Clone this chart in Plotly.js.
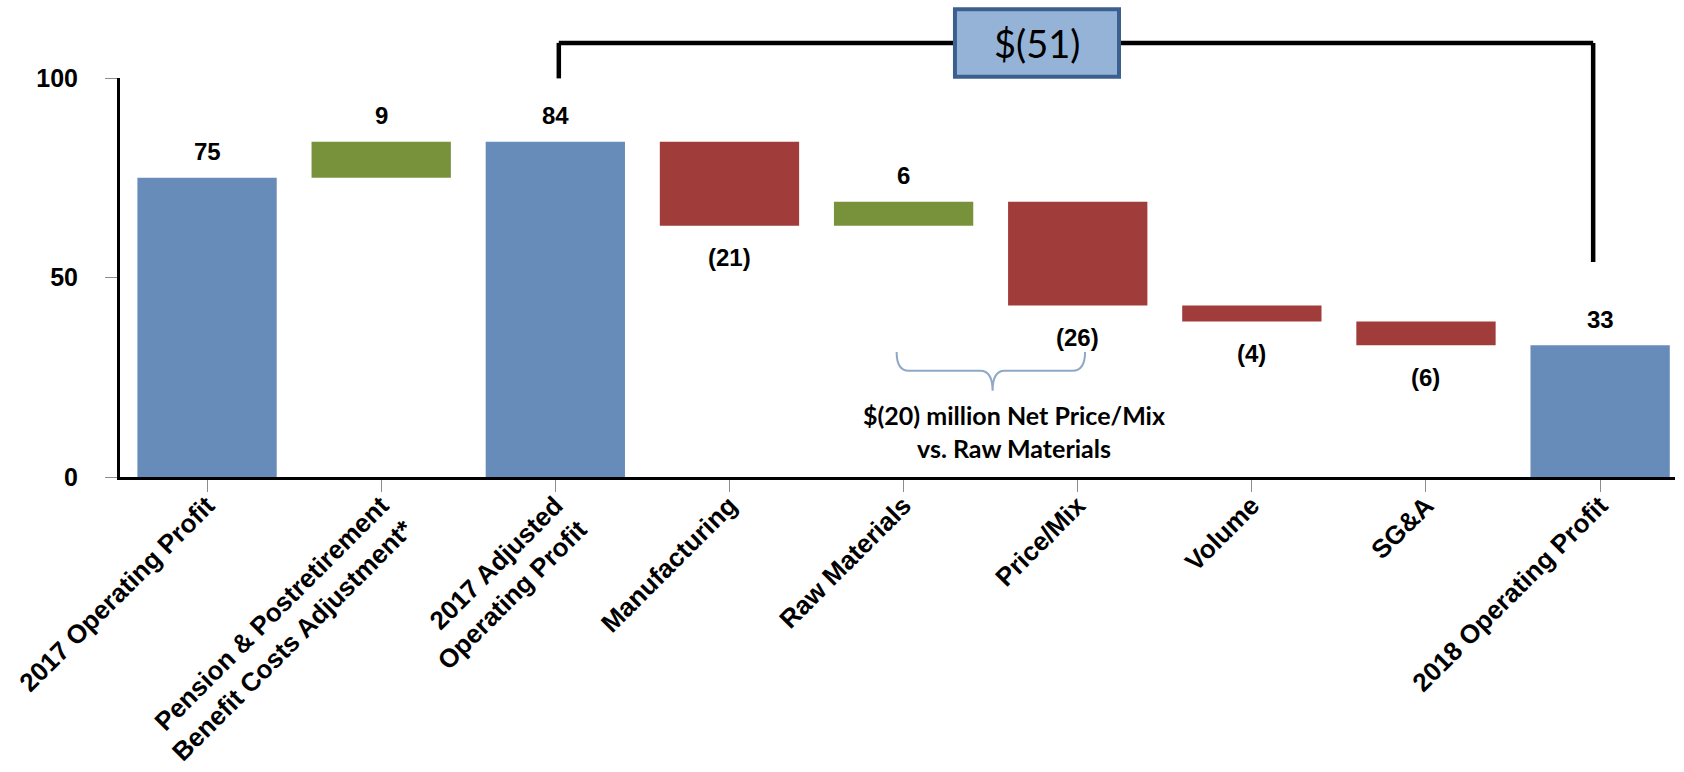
<!DOCTYPE html>
<html>
<head>
<meta charset="utf-8">
<script src="https://cdn.plot.ly/plotly-3.0.1.min.js"></script>
<style>html,body{margin:0;padding:0;background:#fff;}</style>
</head>
<body>
<div id="chart" style="width:1684px;height:772px;"></div>
<script>
// ---- data ----
var categories = [
  '2017 Operating Profit',
  'Pension & Postretirement<br>Benefit Costs Adjustment*',
  '2017 Adjusted<br>Operating Profit',
  'Manufacturing',
  'Raw Materials',
  'Price/Mix',
  'Volume',
  'SG&A',
  '2018 Operating Profit'
];
var measures = ['total', 'delta', 'total', 'delta', 'delta', 'delta', 'delta', 'delta', 'total'];
var values = [75, 9, 84, -21, 6, -26, -4, -6, 33];
var valueLabels = ['75', '9', '84', '(21)', '6', '(26)', '(4)', '(6)', '33'];
var yTickVals = [0, 50, 100];
var bridgeLabel = '$(51)';
var noteLabel = '$(20) million Net Price/Mix<br>vs. Raw Materials';

// ---- styles ----
var C_TOTAL = '#688CB9', C_UP = '#77923B', C_DOWN = '#A03D3B';
var numFont = {family: 'Liberation Sans, Arial, sans-serif', size: 24, color: '#000', weight: 'bold'};

// ---- build floating bars from data ----
var idx = categories.map(function (_, i) { return i; });
var bases = [], lengths = [], colors = [], running = 0;
values.forEach(function (v, i) {
  if (measures[i] === 'total') {
    bases.push(0); lengths.push(v); colors.push(C_TOTAL); running = v;
  } else {
    if (v >= 0) { bases.push(running); lengths.push(v); colors.push(C_UP); }
    else { bases.push(running + v); lengths.push(-v); colors.push(C_DOWN); }
    running += v;
  }
});

var trace = {
  type: 'bar', x: idx, y: lengths, base: bases, width: 0.8,
  marker: {color: colors, line: {width: 0}},
  hoverinfo: 'skip', showlegend: false
};

var annotations = values.map(function (v, i) {
  var neg = measures[i] !== 'total' && v < 0;
  return {
    x: i, y: neg ? bases[i] : bases[i] + lengths[i], xref: 'x', yref: 'y',
    text: valueLabels[i], showarrow: false, yanchor: 'middle',
    yshift: neg ? -32 : 26, font: numFont
  };
});

annotations.push({
  x: 4.766, y: 1.088, xref: 'x', yref: 'paper', xanchor: 'center', yanchor: 'middle',
  text: bridgeLabel, showarrow: false,
  font: {family: 'Lato, Carlito, sans-serif', size: 38, color: '#000'}
});
annotations.push({
  x: 4.634, y: 11.5, xref: 'x', yref: 'y', xanchor: 'center', yanchor: 'middle',
  text: noteLabel, showarrow: false,
  font: {family: 'Lato, Carlito, sans-serif', size: 25, color: '#000', weight: 'bold'}
});

var shapes = [
  {type: 'line', xref: 'x', yref: 'paper', x0: 2.02, x1: 2.02, y0: 0.999, y1: 1.088, line: {color: '#000', width: 4.5}},
  {type: 'line', xref: 'x', yref: 'paper', x0: 2.02, x1: 7.96, y0: 1.088, y1: 1.088, line: {color: '#000', width: 4.5}},
  {type: 'line', xref: 'x', yref: 'paper', x0: 7.96, x1: 7.96, y0: 1.088, y1: 0.539, line: {color: '#000', width: 4.5}},
  {type: 'rect', xref: 'x', yref: 'paper', x0: 4.295, x1: 5.237, y0: 1.003, y1: 1.172,
   fillcolor: '#95B3D7', line: {color: '#3B5F8E', width: 4}},
  {type: 'path', xref: 'x', yref: 'y',
   path: 'M 3.96,31.3 Q 3.96,26.6 4.03,26.6 L 4.44,26.6 Q 4.511,26.6 4.511,21.6 Q 4.511,26.6 4.58,26.6 L 4.97,26.6 Q 5.042,26.6 5.042,31.3',
   line: {color: '#8EA8C8', width: 2}}
];

var layout = {
  width: 1684, height: 772,
  margin: {l: 120, r: 9, t: 78, b: 295, pad: 0},
  paper_bgcolor: '#fff', plot_bgcolor: '#fff',
  showlegend: false,
  bargap: 0.2,
  xaxis: {
    range: [-0.5, 8.43], tickmode: 'array', tickvals: idx, ticktext: categories,
    tickangle: -45, ticks: 'outside', ticklen: 12, tickwidth: 1, tickcolor: '#8c8c8c',
    showline: true, linecolor: '#000', linewidth: 3, showgrid: false, zeroline: false,
    tickfont: {family: 'Liberation Sans, Arial, sans-serif', size: 26, color: '#000', weight: 'bold'},
    ticklabelstandoff: -12,
    fixedrange: true
  },
  yaxis: {
    range: [0, 100], tickmode: 'array', tickvals: yTickVals,
    ticks: 'outside', ticklen: 12, tickwidth: 1, tickcolor: '#8c8c8c',
    showline: true, linecolor: '#000', linewidth: 3, showgrid: false, zeroline: false,
    tickfont: {family: 'Liberation Sans, Arial, sans-serif', size: 25, color: '#000', weight: 'bold'},
    ticklabelstandoff: 22, fixedrange: true
  },
  annotations: annotations,
  shapes: shapes
};

Plotly.newPlot('chart', [trace], layout, {displayModeBar: false, staticPlot: true});
</script>
</body>
</html>
